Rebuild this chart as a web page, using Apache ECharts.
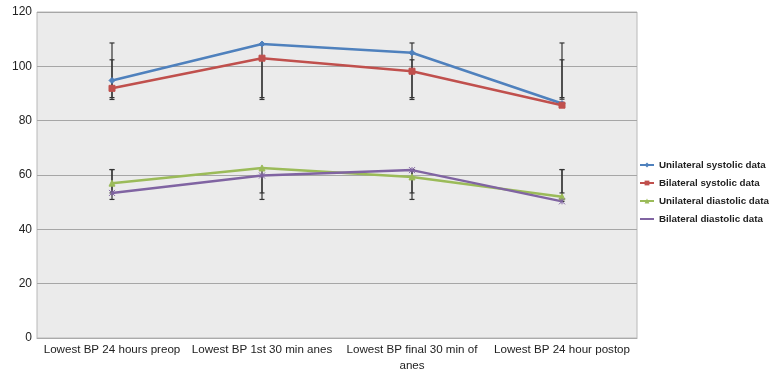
<!DOCTYPE html>
<html>
<head>
<meta charset="utf-8">
<script src="https://cdn.jsdelivr.net/npm/echarts@6/dist/echarts.min.js"></script>
<style>html,body{margin:0;padding:0;background:#fff}#c{width:771px;height:374px}</style>
</head>
<body>
<div id="c"></div>
<script>
var categories = ['Lowest BP 24 hours preop', 'Lowest BP 1st 30 min anes', 'Lowest BP final 30 min of\nanes', 'Lowest BP 24 hour postop'];
var yTicks = [0, 20, 40, 60, 80, 100, 120];

var uniSys = [94.8, 108.2, 105.0, 86.3];
var biSys = [91.9, 103.0, 98.2, 85.7];
var uniDia = [57.0, 62.6, 59.3, 52.0];
var biDia = [53.4, 59.8, 61.8, 50.3];

// error bar ends [low, high]
var uniSysErr = [[87.8, 108.6], [87.8, 108.2], [87.8, 108.6], [87.9, 108.6]];
var biSysErr = [[88.5, 102.4], [88.5, 103.0], [88.5, 102.4], [88.5, 102.4]];
var uniDiaErr = [[53.4, 62.0], [53.4, 62.6], [53.4, 62.0], [53.4, 62.0]];
var biDiaErr = [[51.0, 62.0], [51.0, 59.8], [51.0, 62.0], [50.3, 62.0]];

var names = ['Unilateral systolic data', 'Bilateral systolic data', 'Unilateral diastolic data', 'Bilateral diastolic data'];
var colors = ['#4f81bd', '#c0504d', '#9bbb59', '#8064a2'];
var symbols = ['diamond', 'rect', 'triangle', 'path://M0,0L10,10M10,0L0,10M5,0L5,10'];
var values = [uniSys, biSys, uniDia, biDia];
var errs = [uniSysErr, biSysErr, uniDiaErr, biDiaErr];

var chart = echarts.init(document.getElementById('c'), null, {renderer: 'canvas'});

function errRender(params, api) {
  var x = api.value(0);
  var lo = api.coord([x, api.value(1)]);
  var hi = api.coord([x, api.value(2)]);
  var cap = 2.5;
  var st = {stroke: '#333', lineWidth: 1.2};
  return {
    type: 'group',
    children: [
      {type: 'line', shape: {x1: lo[0], y1: lo[1], x2: hi[0], y2: hi[1]}, style: st},
      {type: 'line', shape: {x1: lo[0] - cap, y1: lo[1], x2: lo[0] + cap, y2: lo[1]}, style: st},
      {type: 'line', shape: {x1: hi[0] - cap, y1: hi[1], x2: hi[0] + cap, y2: hi[1]}, style: st}
    ]
  };
}

var series = [];
for (var i = 0; i < 4; i++) {
  series.push({
    type: 'custom',
    renderItem: errRender,
    data: errs[i].map(function (e, j) { return [j, e[0], e[1]]; }),
    encode: {x: 0, y: [1, 2]},
    z: 1,
    silent: true
  });
}
for (var k = 0; k < 4; k++) {
  series.push({
    name: names[k],
    type: 'line',
    data: values[k],
    symbol: symbols[k],
    symbolSize: 6,
    showSymbol: true,
    lineStyle: {width: 2.5, color: colors[k]},
    itemStyle: {color: colors[k], borderColor: colors[k]},
    z: 3
  });
}

chart.setOption({
  animation: false,
  color: colors,
  grid: {left: 37, right: 134, top: 12, bottom: 36, show: true, backgroundColor: '#ebebeb', borderColor: '#b8b8b8', borderWidth: 1},
  legend: {
    data: names,
    orient: 'vertical',
    left: 639,
    top: 159,
    padding: 0,
    itemWidth: 14,
    itemHeight: 6,
    itemGap: 6,
    textStyle: {fontFamily: 'Liberation Sans', fontSize: 9.8, fontWeight: 'bold', color: '#222', lineHeight: 12}
  },
  xAxis: {
    type: 'category',
    data: categories,
    boundaryGap: true,
    axisLine: {show: true, lineStyle: {color: '#aaa'}},
    axisTick: {show: false},
    axisLabel: {interval: 0, fontFamily: 'Liberation Sans', fontSize: 11.6, color: '#222', margin: 4, lineHeight: 16}
  },
  yAxis: {
    type: 'value',
    min: yTicks[0],
    max: yTicks[yTicks.length - 1],
    interval: 20,
    axisLine: {show: false},
    axisTick: {show: false},
    splitLine: {lineStyle: {color: '#a6a6a6', width: 1}},
    axisLabel: {fontFamily: 'Liberation Sans', fontSize: 12, color: '#222', margin: 5, padding: [4, 0, 0, 0]}
  },
  series: series
});
</script>
</body>
</html>
